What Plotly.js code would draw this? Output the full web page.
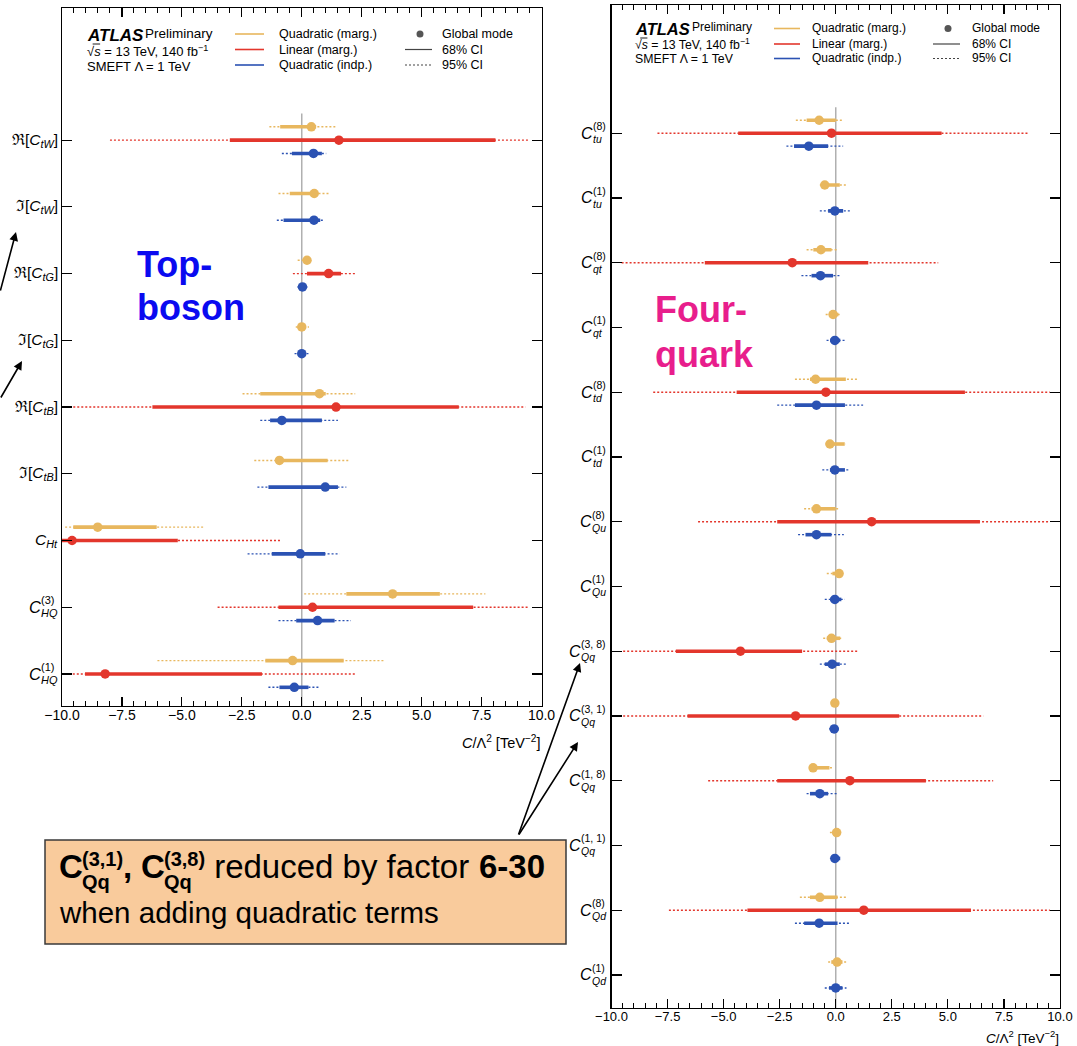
<!DOCTYPE html>
<html><head><meta charset="utf-8">
<script src="https://cdn.plot.ly/plotly-3.0.1.min.js"></script>
<style>html,body{margin:0;padding:0;background:#fff;}#chart{width:1077px;height:1046px;}</style>
</head><body><div id="chart"></div>
<script>
// ---------------- DATA: Top-boson panel ----------------
const tbPrefix = ['ℜ[','ℑ[','ℜ[','ℑ[','ℜ[','ℑ[','','',''];
const tbSub    = ['tW','tW','tG','tG','tB','tB','Ht','HQ','HQ'];
const tbSup    = ['','','','','','','','(3)','(1)'];
const tbSuffix = [']',']',']',']',']',']','','',''];

// Quadratic (marg.)
const tbQmMode = [0.40, 0.52, 0.22, 0.00, 0.74, -0.93, -8.51, 3.79, -0.38];
const tbQmLo68 = [-0.90, -0.50, 0.05, -0.12, -1.73, -0.95, -9.53, 1.86, -1.52];
const tbQmHi68 = [0.60, 0.65, 0.30, 0.15, 1.00, 1.08, -6.05, 5.76, 1.75];
const tbQmLo95 = [-1.35, -0.97, -0.17, -0.25, -2.47, -1.98, -9.87, 0.10, -6.02];
const tbQmHi95 = [1.40, 1.16, 0.38, 0.30, 2.23, 2.00, -4.07, 7.66, 3.44];
// Linear (marg.)
const tbLmMode = [1.55, null, 1.12, null, 1.43, null, -9.58, 0.45, -8.20];
const tbLmLo68 = [-3.00, null, 0.22, null, -6.23, null, -10.0, -0.97, -9.04];
const tbLmHi68 = [8.08, null, 1.64, null, 6.55, null, -5.17, 7.15, -1.66];
const tbLmLo95 = [-8.00, null, -0.37, null, -9.53, null, -10.0, -3.51, -9.55];
const tbLmHi95 = [9.46, null, 2.23, null, 9.33, null, -0.83, 9.47, 2.23];
// Quadratic (indp.)
const tbQiMode = [0.49, 0.51, 0.03, 0.00, -0.83, 0.98, -0.06, 0.66, -0.31];
const tbQiLo68 = [-0.41, -0.76, -0.10, -0.15, -1.32, -1.39, -1.25, -0.23, -0.93];
const tbQiHi68 = [0.84, 0.77, 0.15, 0.15, 0.84, 1.51, 0.98, 1.37, 0.28];
const tbQiLo95 = [-0.83, -1.04, -0.18, -0.30, -1.73, -1.85, -2.26, -0.97, -1.39];
const tbQiHi95 = [1.02, 0.95, 0.24, 0.28, 1.51, 1.86, 1.58, 2.05, 0.77];

// ---------------- DATA: Four-quark panel ----------------
const fqSub = ['tu','tu','qt','qt','td','td','Qu','Qu','Qq','Qq','Qq','Qq','Qd','Qd'];
const fqSup = ['(8)','(1)','(8)','(1)','(8)','(1)','(8)','(1)','(3, 8)','(3, 1)','(1, 8)','(1, 1)','(8)','(1)'];

const fqQmMode = [-0.74, -0.49, -0.66, -0.12, -0.90, -0.26, -0.86, 0.15, -0.19, -0.04, -1.01, 0.04, -0.71, 0.06];
const fqQmLo68 = [-1.30, -0.64, -1.00, -0.30, -1.15, -0.30, -1.08, -0.15, -0.40, -0.15, -1.05, -0.15, -1.15, -0.20];
const fqQmHi68 = [0.00, 0.18, -0.19, 0.12, 0.45, 0.40, 0.00, 0.22, 0.20, 0.10, -0.28, 0.15, 0.08, 0.30];
const fqQmLo95 = [-1.78, -0.71, -1.30, -0.45, -1.82, -0.45, -1.41, -0.40, -0.56, -0.20, -1.15, -0.26, -1.60, -0.34];
const fqQmHi95 = [0.36, 0.48, 0.04, 0.25, 1.00, 0.45, 0.18, 0.25, 0.33, 0.15, -0.15, 0.18, 0.48, 0.52];

const fqLmMode = [-0.19, null, -1.94, null, -0.44, null, 1.60, null, -4.25, -1.79, 0.63, null, 1.25, null];
const fqLmLo68 = [-4.35, null, -5.84, null, -4.42, null, -2.61, null, -7.13, -6.61, -2.61, null, -3.94, null];
const fqLmHi68 = [4.72, null, 1.45, null, 5.76, null, 6.43, null, -1.50, 2.83, 4.02, null, 6.03, null];
const fqLmLo95 = [-7.95, null, -9.55, null, -8.14, null, -6.14, null, -9.48, -9.48, -5.69, null, -7.44, null];
const fqLmHi95 = [8.58, null, 4.57, null, 9.55, null, 9.55, null, 1.00, 6.58, 7.02, null, 9.55, null];

const fqQiMode = [-1.20, -0.04, -0.68, -0.04, -0.86, -0.04, -0.86, -0.04, -0.16, -0.07, -0.71, -0.04, -0.74, 0.00];
const fqQiLo68 = [-1.86, -0.34, -1.08, -0.25, -1.82, -0.26, -1.35, -0.25, -0.49, -0.20, -1.15, -0.20, -1.41, -0.30];
const fqQiHi68 = [-0.34, 0.33, -0.12, 0.20, 0.41, 0.41, -0.19, 0.25, 0.18, 0.12, -0.34, 0.20, 0.08, 0.30];
const fqQiLo95 = [-2.20, -0.71, -1.53, -0.41, -2.61, -0.60, -1.68, -0.49, -0.71, -0.30, -1.30, -0.26, -1.82, -0.49];
const fqQiHi95 = [0.33, 0.63, 0.21, 0.41, 1.22, 0.60, 0.36, 0.41, 0.45, 0.20, 0.08, 0.26, 0.67, 0.48];

const xTickVals = [-10, -7.5, -5, -2.5, 0, 2.5, 5, 7.5, 10];

// ---------------- STYLE / LAYOUT ----------------
const W = 1077, H = 1046;
const PX = x => x / W, PY = y => 1 - y / H;
const FAM = '"Liberation Sans", Arial, Helvetica, sans-serif';
const cYel = '#e8b75e', cRed = '#e3362c', cBlu = '#2b52b3';
const canvas = document.createElement('canvas');
const ctx = canvas.getContext('2d');
function tw(txt, size, style, weight) {
  ctx.font = (style || 'normal') + ' ' + (weight || 'normal') + ' ' + size + 'px "Liberation Sans"';
  return ctx.measureText(txt).width;
}

const traces = [];
function addSeries(mode, lo68, hi68, lo95, hi95, off, color, xa, ya) {
  const x95 = [], y95 = [], x68 = [], y68 = [], xm = [], ym = [];
  mode.forEach((m, i) => {
    const y = i + off;
    if (lo95[i] !== null) { x95.push(lo95[i], hi95[i], null); y95.push(y, y, null); }
    if (lo68[i] !== null) { x68.push(lo68[i], hi68[i], null); y68.push(y, y, null); }
    if (m !== null) { xm.push(m); ym.push(y); }
  });
  traces.push({type: 'scatter', mode: 'lines', x: x95, y: y95, xaxis: xa, yaxis: ya,
    line: {color: color, width: 1.4, dash: '2px,2px'}, hoverinfo: 'skip'});
  traces.push({type: 'scatter', mode: 'lines', x: x68, y: y68, xaxis: xa, yaxis: ya,
    line: {color: color, width: 3.6}, hoverinfo: 'skip'});
  traces.push({type: 'scatter', mode: 'markers', x: xm, y: ym, xaxis: xa, yaxis: ya,
    marker: {color: color, size: 9.5}, hoverinfo: 'skip'});
}
addSeries(tbQmMode, tbQmLo68, tbQmHi68, tbQmLo95, tbQmHi95, -0.2, cYel, 'x', 'y');
addSeries(tbLmMode, tbLmLo68, tbLmHi68, tbLmLo95, tbLmHi95, 0.0, cRed, 'x', 'y');
addSeries(tbQiMode, tbQiLo68, tbQiHi68, tbQiLo95, tbQiHi95, 0.2, cBlu, 'x', 'y');
addSeries(fqQmMode, fqQmLo68, fqQmHi68, fqQmLo95, fqQmHi95, -0.2, cYel, 'x2', 'y2');
addSeries(fqLmMode, fqLmLo68, fqLmHi68, fqLmLo95, fqLmHi95, 0.0, cRed, 'x2', 'y2');
addSeries(fqQiMode, fqQiLo68, fqQiHi68, fqQiLo95, fqQiHi95, 0.2, cBlu, 'x2', 'y2');

function xAxis(dom, anchor, fs) {
  return {domain: dom, anchor: anchor, range: [-10, 10], tickmode: 'array', tickvals: xTickVals,
    tickformat: '.1f', ticks: 'inside', ticklen: 9, tickwidth: 1.2, tickcolor: '#000', ticklabelstandoff: -4,
    minor: {dtick: 0.5, tick0: 0, ticks: 'inside', ticklen: 5, tickwidth: 1, tickcolor: '#000', showgrid: false},
    showline: true, linecolor: '#000', linewidth: 1.4, mirror: 'allticks', showgrid: false, zeroline: false,
    tickfont: {size: fs, color: '#000'}, fixedrange: true};
}
function yAxis(dom, anchor, n, bottom) {
  const tv = []; for (let i = 0; i < n; i++) tv.push(i);
  return {domain: dom, anchor: anchor, range: [bottom, -1.98], tickmode: 'array', tickvals: tv,
    showticklabels: false, ticks: 'inside', ticklen: 10, tickwidth: 1.2, tickcolor: '#000',
    showline: true, linecolor: '#000', linewidth: 1.4, mirror: 'allticks', showgrid: false, zeroline: false,
    fixedrange: true};
}

const annotations = [];
const shapes = [];
function ann(o) { annotations.push(Object.assign({showarrow: false, xref: 'paper', yref: 'paper'}, o)); }

// zero lines
shapes.push({type: 'line', xref: 'x', yref: 'y', x0: 0, x1: 0, y0: -0.4, y1: 8.48, layer: 'below', line: {color: '#b0b0b0', width: 1.5}});
shapes.push({type: 'line', xref: 'x2', yref: 'y2', x0: 0, x1: 0, y0: -0.4, y1: 13.51, layer: 'below', line: {color: '#b0b0b0', width: 1.5}});

// y tick labels
function stackedLabel(R, i, yref, sup, sub, cs, ss) {
  const w = Math.max(tw(sup, ss), tw(sub, ss, 'italic'));
  const xb = R - w;
  ann({x: PX(xb), y: i, yref: yref, xanchor: 'right', yanchor: 'middle', text: '<i>C</i>', font: {size: cs}});
  ann({x: PX(xb - 4), y: i, yref: yref, yshift: 7, xanchor: 'left', yanchor: 'middle', text: sup, font: {size: ss}});
  ann({x: PX(xb - 4), y: i, yref: yref, yshift: -6, xanchor: 'left', yanchor: 'middle', text: '<i>' + sub + '</i>', font: {size: ss}});
}
tbSub.forEach((s, i) => {
  if (tbSup[i] === '') {
    ann({x: PX(60), y: i, yref: 'y', xanchor: 'right', yanchor: 'middle',
      text: tbPrefix[i] + '<i>C</i><sub><i>' + s + '</i></sub>' + tbSuffix[i], font: {size: 15.5}});
  } else {
    stackedLabel(59, i, 'y', tbSup[i], s, 16.5, 11);
  }
});
fqSub.forEach((s, i) => stackedLabel(608, i, 'y2', fqSup[i], s, 16, 10.5));

// axis titles
ann({x: PX(542), y: PY(742), xanchor: 'right', yanchor: 'middle', text: '<i>C</i>/Λ<sup>2</sup> [TeV<sup>−2</sup>]', font: {size: 14.5}});
ann({x: PX(1061), y: PY(1037), xanchor: 'right', yanchor: 'middle', text: '<i>C</i>/Λ<sup>2</sup> [TeV<sup>−2</sup>]', font: {size: 13.5}});

// legends
function legend(c) {
  ann({x: PX(c.tx), y: PY(c.rows[0]), xanchor: 'left', yanchor: 'middle', text: '<b><i>ATLAS</i></b>', font: {size: c.big}});
  const aw = tw('ATLAS', c.big, 'italic', 'bold');
  ann({x: PX(c.tx + aw + 3), y: PY(c.rows[0] - 1.5), xanchor: 'left', yanchor: 'middle', text: 'Preliminary', font: {size: c.pre}});
  ann({x: PX(c.tx), y: PY(c.rows[1]), xanchor: 'left', yanchor: 'middle', text: '√<i>s</i> = 13 TeV, 140 fb<sup>−1</sup>', font: {size: c.sm}});
  const rw = tw('√', c.sm), sw = tw('s', c.sm, 'italic');
  shapes.push({type: 'line', xref: 'paper', yref: 'paper', x0: PX(c.tx + rw + 0.5), x1: PX(c.tx + rw + sw + 1.5),
    y0: PY(c.rows[1] - 6.5), y1: PY(c.rows[1] - 6.5), line: {color: '#000', width: 0.9}});
  ann({x: PX(c.tx), y: PY(c.rows[2]), xanchor: 'left', yanchor: 'middle', text: 'SMEFT Λ = 1 TeV', font: {size: c.sm}});
  const cols = [cYel, cRed, cBlu], labs = ['Quadratic (marg.)', 'Linear (marg.)', 'Quadratic (indp.)'];
  for (let k = 0; k < 3; k++) {
    shapes.push({type: 'line', xref: 'paper', yref: 'paper', x0: PX(c.l0), x1: PX(c.l1), y0: PY(c.lrows[k]), y1: PY(c.lrows[k]),
      line: {color: cols[k], width: 1.6}});
    ann({x: PX(c.lt), y: PY(c.lrows[k]), xanchor: 'left', yanchor: 'middle', text: labs[k], font: {size: c.lf}});
  }
  shapes.push({type: 'circle', xref: 'paper', yref: 'paper', x0: PX(c.dot - 3.5), x1: PX(c.dot + 3.5),
    y0: PY(c.lrows[0] - 3.5), y1: PY(c.lrows[0] + 3.5), fillcolor: '#555', line: {width: 0}});
  shapes.push({type: 'line', xref: 'paper', yref: 'paper', x0: PX(c.b0), x1: PX(c.b1), y0: PY(c.lrows[1]), y1: PY(c.lrows[1]),
    line: {color: '#444', width: 1.2}});
  shapes.push({type: 'line', xref: 'paper', yref: 'paper', x0: PX(c.b0), x1: PX(c.b1), y0: PY(c.lrows[2]), y1: PY(c.lrows[2]),
    line: {color: '#444', width: 1.2, dash: '2px,2px'}});
  const l2 = ['Global mode', '68% CI', '95% CI'];
  for (let k = 0; k < 3; k++)
    ann({x: PX(c.bt), y: PY(c.lrows[k]), xanchor: 'left', yanchor: 'middle', text: l2[k], font: {size: c.lf}});
}
legend({tx: 85, rows: [35, 50.5, 66], big: 17, pre: 13.5, sm: 13, l0: 235, l1: 264, lt: 277, lrows: [34, 49.5, 65],
  lf: 12.5, dot: 420, b0: 405, b1: 432, bt: 440});
legend({tx: 633, rows: [29, 44.5, 59], big: 16.5, pre: 12, sm: 12.3, l0: 774, l1: 800, lt: 810, lrows: [28.5, 44, 58.5],
  lf: 12, dot: 948, b0: 933, b1: 960, bt: 970});

// group labels
ann({x: PX(135), y: PY(264), xanchor: 'left', yanchor: 'middle', text: '<b>Top-</b>', font: {size: 36, color: '#0a0af0'}});
ann({x: PX(135), y: PY(307), xanchor: 'left', yanchor: 'middle', text: '<b>boson</b>', font: {size: 36, color: '#0a0af0'}});
ann({x: PX(653), y: PY(309), xanchor: 'left', yanchor: 'middle', text: '<b>Four-</b>', font: {size: 36, color: '#e81e8c'}});
ann({x: PX(653), y: PY(354), xanchor: 'left', yanchor: 'middle', text: '<b>quark</b>', font: {size: 36, color: '#e81e8c'}});

// arrows
function arrow(tx, ty, fx, fy) {
  annotations.push({xref: 'paper', yref: 'paper', x: PX(tx), y: PY(ty), ax: fx - tx, ay: fy - ty, axref: 'pixel', ayref: 'pixel',
    text: '', showarrow: true, arrowhead: 2, arrowsize: 1.1, arrowwidth: 1.6, arrowcolor: '#000', standoff: 0});
}
arrow(16, 232, -4, 292);
arrow(22, 361, -4, 399);
arrow(580, 663, 518, 836);
arrow(578, 742, 518, 836);

// note box
shapes.push({type: 'rect', xref: 'paper', yref: 'paper', x0: PX(45), x1: PX(566), y0: PY(944), y1: PY(840),
  fillcolor: '#f9cb9c', line: {color: '#3a3a3a', width: 1.5}, layer: 'above'});
(function () {
  const F = 33, S = 20, yl = 866;
  let x = 57;
  function piece(t, bold, size, yy) {
    ann({x: PX(x), y: PY(yy), xanchor: 'left', yanchor: 'middle', text: bold ? '<b>' + t + '</b>' : t, font: {size: size, color: '#000'}});
  }
  function coef(sup) {
    piece('C', true, F, yl); x += tw('C', F, 'normal', 'bold') - 1;
    const xs = x;
    piece(sup, true, S, yl - 7); piece('Qq', true, S, yl + 16);
    x = xs + Math.max(tw(sup, S, 'normal', 'bold'), tw('Qq', S, 'normal', 'bold'));
  }
  coef('(3,1)');
  piece(',', true, F, yl); x += tw(', ', F, 'normal', 'bold');
  coef('(3,8)');
  piece(' reduced by factor ', false, F, yl); x += tw(' reduced by factor ', F);
  piece('6-30', true, F, yl);
  x = 57;
  piece('when adding quadratic terms', false, 29.5, 912);
})();

const layout = {
  width: W, height: H, margin: {l: 0, r: 0, t: 0, b: 0}, paper_bgcolor: '#fff', plot_bgcolor: '#fff', showlegend: false,
  font: {family: FAM, color: '#000', size: 13},
  xaxis: xAxis([PX(62), PX(541.5)], 'y', 14),
  yaxis: yAxis([PY(706), PY(8)], 'x', 9, 8.48),
  xaxis2: xAxis([PX(611.5), PX(1060)], 'y2', 13),
  yaxis2: yAxis([PY(1008), PY(5)], 'x2', 14, 13.51),
  annotations: annotations, shapes: shapes
};
Plotly.newPlot('chart', traces, layout, {staticPlot: true, displayModeBar: false});
</script>
</body></html>
